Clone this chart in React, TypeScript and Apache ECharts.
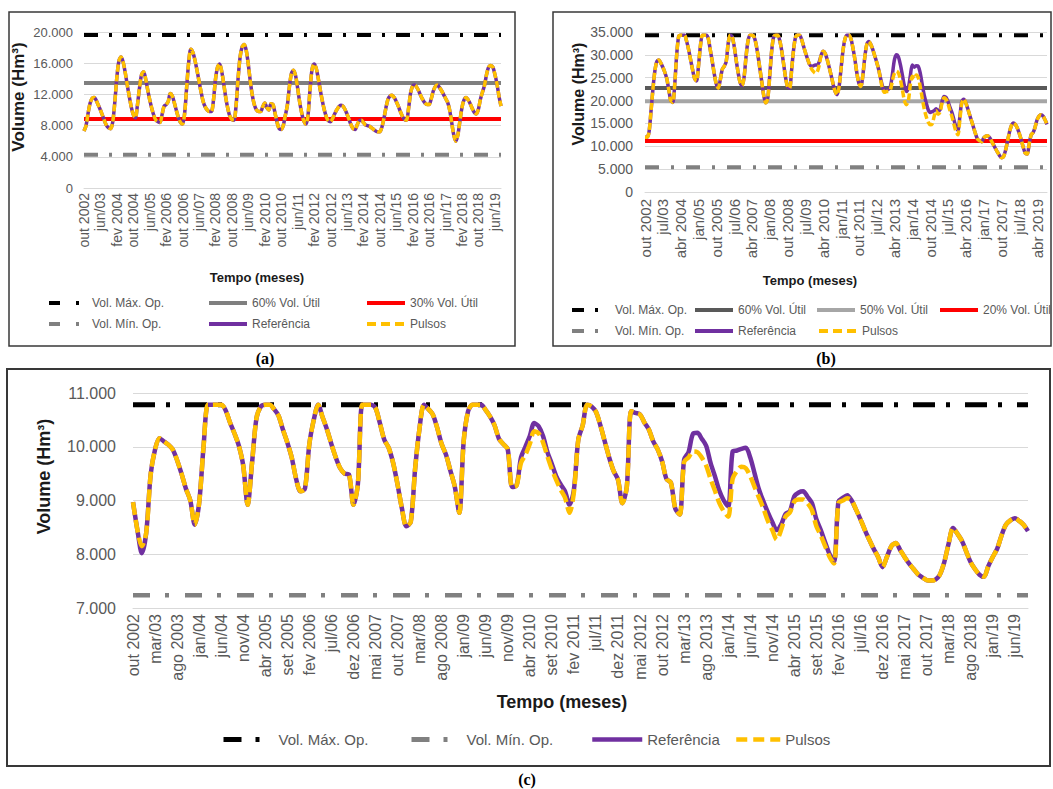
import React, { useEffect, useRef } from "react";
import * as echarts from "echarts";

// ---------- categories & tick labels ----------
const MONTHS = ["jan", "fev", "mar", "abr", "mai", "jun", "jul", "ago", "set", "out", "nov", "dez"];
const N = 204; // out/2002 .. set/2019
const categories = Array.from({ length: N }, (_, i) => `${MONTHS[(9 + i) % 12]}/${2002 + Math.floor((9 + i) / 12)}`);

const ticksA = ["out 2002", "jun/03", "fev 2004", "out 2004", "jun/05", "fev 2006", "out 2006", "jun/07", "fev 2008", "out 2008", "jun/09", "fev 2010", "out 2010", "jun/11", "fev 2012", "out 2012", "jun/13", "fev 2014", "out 2014", "jun/15", "fev 2016", "out 2016", "jun/17", "fev 2018", "out 2018", "jun/19"];
const ticksB = ["out 2002", "jul/03", "abr 2004", "jan/05", "out 2005", "jul/06", "abr 2007", "jan/08", "out 2008", "jul/09", "abr 2010", "jan/11", "out 2011", "jul/12", "abr 2013", "jan/14", "out 2014", "jul/15", "abr 2016", "jan/17", "out 2017", "jul/18", "abr 2019"];
const ticksC = ["out 2002", "mar/03", "ago 2003", "jan/04", "jun/04", "nov/04", "abr 2005", "set 2005", "fev 2006", "jul/06", "dez 2006", "mai 2007", "out 2007", "mar/08", "ago 2008", "jan/09", "jun/09", "nov/09", "abr 2010", "set 2010", "fev 2011", "jul/11", "dez 2011", "mai 2012", "out 2012", "mar/13", "ago 2013", "jan/14", "jun/14", "nov/14", "abr 2015", "set 2015", "fev 2016", "jul/16", "dez 2016", "mai 2017", "out 2017", "mar/18", "ago 2018", "jan/19", "jun/19"];

// ---------- panel (a) values (thousand hm³) ----------
const refA = [
  7.3, 8.0, 9.6, 10.9, 11.5, 11.6, 11.2, 10.6, 10.0, 9.3,
  8.6, 8.0, 7.7, 7.6, 8.5, 11.0, 14.2, 16.3, 16.8, 16.2,
  14.9, 13.3, 11.8, 10.4, 9.4, 9.0, 10.6, 12.8, 14.5, 14.9,
  14.0, 12.6, 11.3, 10.2, 9.3, 8.7, 8.5, 8.4, 9.4, 10.5,
  10.7, 11.1, 12.1, 11.8, 10.9, 9.9, 9.0, 8.4, 8.2, 9.6,
  13.0, 16.2, 17.8, 17.4, 16.4, 15.1, 13.7, 12.3, 11.1, 10.4,
  10.0, 9.8, 9.8, 11.2, 13.9, 15.5, 15.9, 15.0, 13.4, 11.6,
  10.2, 9.2, 8.8, 8.7, 10.5, 14.0, 16.8, 18.1, 18.4, 17.6,
  15.8, 13.6, 11.8, 10.6, 10.0, 9.8, 9.8, 10.4, 10.9, 10.3,
  10.0, 10.8, 10.7, 9.6, 8.4, 7.6, 7.5, 8.0, 9.3, 10.6,
  13.0, 14.7, 15.1, 14.4, 12.8, 11.0, 9.6, 8.6, 8.2, 9.2,
  12.5, 15.2, 15.9, 15.4, 14.1, 12.6, 11.2, 10.0, 9.1, 8.6,
  8.5, 8.9, 9.5, 10.0, 10.4, 10.6, 10.5, 10.1, 9.5, 8.8,
  8.1, 7.6, 7.5, 8.1, 8.6, 8.7, 8.4, 8.1, 8.0, 7.9,
  7.7, 7.5, 7.3, 7.2, 7.2, 7.8, 8.9, 10.3, 11.4, 11.8,
  11.9, 11.6, 11.1, 10.5, 9.8, 9.2, 8.8, 8.7, 10.2, 12.2,
  13.1, 13.2, 12.9, 12.4, 11.8, 11.3, 10.9, 10.7, 10.7, 11.4,
  12.4, 13.0, 13.2, 12.9, 12.5, 12.0, 11.5, 11.0, 10.0, 8.4,
  6.8, 6.0, 6.8, 8.6, 10.3, 11.3, 11.6, 11.3, 10.8, 10.2,
  9.7, 9.5, 10.1, 11.4, 12.3, 13.2, 14.6, 15.5, 15.7, 15.5,
  14.6, 13.4, 11.8, 10.5,
];
const pulsosA = refA; // identical in the figure
const MAX_A = 19.6;
const MIN_A = 4.26;
const P60_A = 13.46;
const P30_A = 8.86;

// ---------- panel (b) values ----------
const refB = [
  12.0, 12.0, 13.0, 17.5, 22.5, 26.5, 28.6, 28.9, 28.2, 27.3,
  26.2, 24.8, 22.4, 20.0, 19.6, 23.5, 30.0, 34.0, 34.3, 34.3,
  34.3, 33.0, 31.2, 29.0, 26.8, 24.9, 24.3, 27.5, 32.0, 34.3,
  34.3, 34.3, 33.5, 31.0, 28.5, 25.8, 23.6, 22.7, 24.5, 26.8,
  27.5, 28.5, 32.5, 34.3, 34.0, 32.0, 29.0, 26.2, 24.0, 23.3,
  25.0, 29.5, 33.0, 34.3, 34.3, 34.0, 32.5, 30.0, 27.0, 24.0,
  21.0, 19.5, 20.5, 25.5, 31.0, 34.0, 34.3, 34.3, 33.2, 31.0,
  28.0, 25.0, 23.0, 22.7, 26.5, 31.0, 33.8, 34.3, 34.3, 33.5,
  32.0, 30.5, 29.2, 28.0, 27.5, 27.6, 27.8, 27.8, 28.5, 30.0,
  30.8, 30.3, 29.0, 27.3, 25.5, 23.6, 22.0, 21.3, 23.0, 27.0,
  31.0, 33.5, 34.3, 34.3, 33.5, 31.5, 29.0, 26.0, 23.8, 23.1,
  25.5, 29.5, 32.3, 32.9, 32.3, 31.2, 29.8, 28.4, 26.8, 24.8,
  23.0, 22.2, 22.3, 22.5, 23.2, 26.0, 29.0, 30.0, 29.5, 27.8,
  25.5, 23.2, 22.0, 22.8, 25.5, 27.8, 27.3, 27.6, 27.5, 26.0,
  23.5, 21.2, 19.5, 18.0, 17.4, 17.6, 17.8, 18.2, 17.8, 18.0,
  19.8, 20.9, 20.7, 19.8, 18.5, 17.4, 15.8, 14.3, 13.5, 16.5,
  19.8, 20.3, 19.5, 18.2, 16.8, 15.4, 14.0, 12.6, 11.5, 11.2,
  11.0, 11.8, 12.2, 12.3, 11.9, 11.1, 10.3, 9.5, 8.7, 8.0,
  7.5, 7.7, 9.0, 11.0, 13.0, 14.5, 15.1, 14.8, 14.0, 12.8,
  11.4, 9.8, 8.5, 8.3, 10.5, 12.5, 13.0, 14.2, 15.8, 16.6,
  16.9, 16.6, 15.8, 14.8,
];
const pulsosB = [
  ...refB.slice(0, 84),
  27.0, 26.4, 26.0, 26.3, 27.8,
  ...refB.slice(89, 119),
  24.5, 22.5, 21.8, 22.0, 22.0, 22.5, 24.5, 26.0, 26.4, 26.0,
  24.5, 22.3, 20.0, 19.1, 20.0, 23.5, 25.3, 24.8, 25.6, 25.0,
  23.0, 20.5, 18.2, 16.5, 15.3, 14.7, 14.9, 16.5, 17.8, 17.0,
  17.5, 19.5, 20.6, 20.3, 19.3, 17.8, 16.5, 14.8, 13.3, 12.5,
  15.8, 19.5,
  ...refB.slice(161),
];
const MAX_B = 34.3;
const MIN_B = 5.4;
const P60_B = 22.74;
const P50_B = 19.85;
const P20_B = 11.18;

// ---------- panel (c) values ----------
const refC = [
  8.97, 8.45, 8.02, 8.40, 9.48, 9.95, 10.16, 10.10, 10.04, 9.95,
  9.75, 9.50, 9.22, 9.00, 8.55, 8.95, 10.00, 10.78, 10.78, 10.78,
  10.78, 10.68, 10.45, 10.25, 10.02, 9.65, 8.92, 9.70, 10.53, 10.75,
  10.78, 10.78, 10.70, 10.58, 10.32, 10.08, 9.80, 9.40, 9.17, 9.22,
  10.05, 10.50, 10.78, 10.55, 10.32, 10.05, 9.80, 9.60, 9.50, 9.48,
  8.92, 9.30, 10.78, 10.78, 10.78, 10.72, 10.44, 10.13, 9.98, 9.70,
  9.30, 8.85, 8.52, 8.60, 9.60, 10.35, 10.78, 10.70, 10.60, 10.35,
  10.05, 9.85, 9.55, 9.25, 8.77, 10.10, 10.66, 10.78, 10.78, 10.78,
  10.68, 10.56, 10.40, 10.15, 10.05, 9.95, 9.25, 9.28, 9.80, 10.00,
  10.20, 10.44, 10.38, 10.20, 9.90, 9.68, 9.45, 9.30, 9.17, 8.92,
  9.20, 10.13, 10.40, 10.78, 10.75, 10.65, 10.40, 10.10, 9.80, 9.55,
  9.39, 8.95, 9.25, 10.66, 10.63, 10.60, 10.45, 10.32, 10.10, 9.95,
  9.73, 9.40, 9.33, 8.85, 8.74, 9.76, 9.90, 10.24, 10.26, 10.15,
  10.02, 9.70, 9.45, 9.18, 9.00, 8.89, 9.91, 9.93, 9.96, 9.98,
  9.80, 9.50, 9.20, 8.98, 8.78, 8.60, 8.45, 8.55, 8.75, 8.80,
  9.08, 9.15, 9.17, 9.07, 8.95, 8.65, 8.45, 8.22, 8.00, 7.87,
  8.98, 9.05, 9.10, 9.00, 8.83, 8.65, 8.45, 8.27, 8.10, 7.95,
  7.76, 7.95, 8.15, 8.21, 8.08, 7.95, 7.83, 7.73, 7.63, 7.57,
  7.52, 7.51, 7.53, 7.62, 7.85, 8.20, 8.49, 8.38, 8.25, 8.05,
  7.85, 7.72, 7.62, 7.58, 7.78, 7.95, 8.10, 8.35, 8.55, 8.63,
  8.67, 8.62, 8.55, 8.43,
];
const pulsosC = [
  ...refC.slice(0, 2), 8.15, ...refC.slice(3, 88),
  9.70, 9.85, 10.05, 10.29, 10.25, 10.08, 9.82, 9.58, 9.38, 9.20,
  9.05, 8.77, 9.15,
  ...refC.slice(101, 125),
  9.72, 9.80, 9.91, 9.90, 9.80, 9.65, 9.40, 9.18, 8.95, 8.80,
  8.70, 9.40, 9.55, 9.63, 9.60, 9.45, 9.25, 9.05, 8.85, 8.62,
  8.45, 8.27, 8.45, 8.70, 8.78, 8.98, 9.02, 9.02, 8.95, 8.82,
  8.52, 8.35, 8.15, 7.95, 7.83, 8.95, 9.00, 9.04,
  ...refC.slice(163),
];
const MAX_C = 10.78;
const MIN_C = 7.235;

// ---------- styling helpers ----------
const FONT = '"Liberation Sans", Arial, sans-serif';
const TXT = "#595959";
const TITLE = "#1a1a1a";
const GRID = "#d9d9d9";
const PURPLE = "#7030a0";
const YELLOW = "#ffc000";

const fmtY = (v: number) => (v === 0 ? "0" : v.toFixed(3));

function levelSeries(name: string, value: number, color: string, width: number, type: any) {
  return {
    name,
    type: "line",
    data: [[0, value], [N - 1, value]],
    symbol: "none",
    silent: true,
    lineStyle: { color, width, type, cap: "butt" },
    itemStyle: { color },
    emphasis: { disabled: true },
  };
}
function dataSeries(name: string, values: number[], color: string, width: number, type: any) {
  return {
    name,
    type: "line",
    data: values,
    symbol: "none",
    smooth: 0.3,
    silent: true,
    lineStyle: { color, width, type, cap: "butt", join: "round" },
    itemStyle: { color },
    emphasis: { disabled: true },
  };
}
function legendItem(name: string, left: number, top: number, fontSize: number, itemWidth: number, lineWidth: number, dash?: any) {
  return {
    show: true,
    data: [name],
    left,
    top,
    padding: 0,
    itemWidth,
    itemHeight: 12,
    selectedMode: false,
    textStyle: { fontSize, color: TXT, fontFamily: FONT },
    itemStyle: { opacity: 0, borderWidth: 0 },
    lineStyle: dash ? { width: lineWidth, type: dash, cap: "butt" } : { width: lineWidth, cap: "butt" },
  };
}
function gText(x: number, y: number, text: string, font: string, fill: string, rotation = 0) {
  return {
    type: "text",
    x,
    y,
    rotation,
    silent: true,
    style: { text, font, fill, textAlign: "center", textVerticalAlign: "middle" },
  };
}
function border(x: number, y: number, w: number, h: number, lw: number) {
  return {
    type: "rect",
    silent: true,
    shape: { x, y, width: w, height: h },
    style: { fill: "none", stroke: "#383838", lineWidth: lw },
  };
}
function xAxisCfg(ticks: string[], step: number, fontSize: number, margin: number) {
  return {
    type: "category",
    data: categories,
    boundaryGap: false,
    axisLine: { show: true, lineStyle: { color: GRID, width: 1 } },
    axisTick: { show: false },
    splitLine: { show: false },
    axisLabel: {
      interval: step - 1,
      rotate: 90,
      margin,
      fontSize,
      color: TXT,
      fontFamily: FONT,
      formatter: (_v: string, i: number) => (i % step === 0 ? ticks[i / step] ?? "" : ""),
    },
  };
}
function yAxisCfg(min: number, max: number, interval: number, fontSize: number, margin: number) {
  return {
    type: "value",
    min,
    max,
    interval,
    axisLine: { show: false },
    axisTick: { show: false },
    splitLine: { show: true, lineStyle: { color: GRID, width: 1 } },
    axisLabel: { margin, fontSize, color: TXT, fontFamily: FONT, formatter: fmtY },
  };
}

const DASH_A = [14, 11, 3, 11];
const DASH_B = [14, 12, 3, 12];
const DASH_C_MAX = [22, 11, 4, 15];
const DASH_C_MIN = [17, 15, 4, 16];

const optionA: any = {
  animation: false,
  grid: { left: 84, right: 29, top: 32, bottom: 180 },
  xAxis: xAxisCfg(ticksA, 8, 14, 5),
  yAxis: yAxisCfg(0, 20, 4, 13, 11),
  legend: [
    legendItem("Vol. Máx. Op.", 47, 297, 12, 38, 4, [11, 16, 3, 8]),
    legendItem("60% Vol. Útil", 207, 297, 12, 38, 4),
    legendItem("30% Vol. Útil", 365, 297, 12, 38, 4),
    legendItem("Vol. Mín. Op.", 47, 318, 12, 38, 4, [11, 16, 3, 8]),
    legendItem("Referência", 207, 318, 12, 38, 4),
    legendItem("Pulsos", 365, 318, 12, 38, 4, [9, 5]),
  ],
  graphic: {
    elements: [
      border(9, 12, 506, 334, 1.5),
      gText(18, 97, "Volume (Hm³)", `bold 17px ${FONT}`, TITLE, Math.PI / 2),
      gText(257, 277, "Tempo (meses)", `bold 13px ${FONT}`, TITLE),
      gText(265, 358, "(a)", 'bold 16px "Liberation Serif", serif', "#000"),
    ],
  },
  series: [
    levelSeries("Vol. Máx. Op.", MAX_A, "#000000", 4, DASH_A),
    levelSeries("Vol. Mín. Op.", MIN_A, "#808080", 4, DASH_A),
    levelSeries("60% Vol. Útil", P60_A, "#7f7f7f", 4, "solid"),
    levelSeries("30% Vol. Útil", P30_A, "#ff0000", 4, "solid"),
    dataSeries("Referência", refA, PURPLE, 3.5, "solid"),
    dataSeries("Pulsos", pulsosA, YELLOW, 3.5, [7, 3]),
  ],
};

const optionB: any = {
  animation: false,
  grid: { left: 110, right: 6, top: 32, bottom: 176 },
  xAxis: xAxisCfg(ticksB, 9, 15, 7),
  yAxis: yAxisCfg(0, 35, 5, 14, 12),
  legend: [
    legendItem("Vol. Máx. Op.", 35, 304, 12, 38, 4, [12, 11, 3, 12]),
    legendItem("60% Vol. Útil", 158, 304, 12, 38, 4),
    legendItem("50% Vol. Útil", 280, 304, 12, 38, 4),
    legendItem("20% Vol. Útil", 403, 304, 12, 38, 4),
    legendItem("Vol. Mín. Op.", 35, 325, 12, 38, 4, [12, 11, 3, 12]),
    legendItem("Referência", 158, 325, 12, 38, 4),
    legendItem("Pulsos", 282, 325, 12, 38, 4, [9, 5]),
  ],
  graphic: {
    elements: [
      border(18, 12, 498, 334, 1.5),
      gText(43, 94, "Volume (Hm³)", `bold 16px ${FONT}`, TITLE, Math.PI / 2),
      gText(275, 280, "Tempo (meses)", `bold 13px ${FONT}`, TITLE),
      gText(291, 358, "(b)", 'bold 16px "Liberation Serif", serif', "#000"),
    ],
  },
  series: [
    levelSeries("Vol. Máx. Op.", MAX_B, "#000000", 4, DASH_B),
    levelSeries("Vol. Mín. Op.", MIN_B, "#808080", 4, DASH_B),
    levelSeries("60% Vol. Útil", P60_B, "#595959", 4, "solid"),
    levelSeries("50% Vol. Útil", P50_B, "#a6a6a6", 4, "solid"),
    levelSeries("20% Vol. Útil", P20_B, "#ff0000", 4, "solid"),
    dataSeries("Referência", refB, PURPLE, 3.5, "solid"),
    dataSeries("Pulsos", pulsosB, YELLOW, 3.5, [7, 3]),
  ],
};

const optionC: any = {
  animation: false,
  grid: { left: 133, right: 25, top: 33, bottom: 181 },
  xAxis: xAxisCfg(ticksC, 5, 16, 6),
  yAxis: yAxisCfg(7, 11, 1, 16, 17),
  legend: [
    legendItem("Vol. Máx. Op.", 221, 372, 15, 50, 5, [18, 14, 4, 14]),
    legendItem("Vol. Mín. Op.", 409, 372, 15, 50, 5, [18, 14, 4, 14]),
    legendItem("Referência", 590, 372, 15, 50, 4.5),
    legendItem("Pulsos", 734, 372, 15, 44, 4.5, [11, 6]),
  ],
  graphic: {
    elements: [
      border(7, 9, 1043, 397, 2),
      gText(43.5, 116.5, "Volume (Hm³)", `bold 18px ${FONT}`, TITLE, Math.PI / 2),
      gText(562, 342, "Tempo (meses)", `bold 18px ${FONT}`, TITLE),
      gText(527, 419, "(c)", 'bold 16px "Liberation Serif", serif', "#000"),
    ],
  },
  series: [
    levelSeries("Vol. Máx. Op.", MAX_C, "#000000", 5, DASH_C_MAX),
    levelSeries("Vol. Mín. Op.", MIN_C, "#808080", 4.5, DASH_C_MIN),
    dataSeries("Referência", refC, PURPLE, 4.5, "solid"),
    dataSeries("Pulsos", pulsosC, YELLOW, 4.5, [13, 5]),
  ],
};

function Panel({ option, left, top, width, height }: { option: any; left: number; top: number; width: number; height: number }) {
  const ref = useRef<HTMLDivElement>(null);
  useEffect(() => {
    if (!ref.current) return;
    const chart = echarts.init(ref.current, undefined, { renderer: "svg" });
    chart.setOption(option);
    return () => chart.dispose();
  }, [option]);
  return <div ref={ref} style={{ position: "absolute", left, top, width, height }} />;
}

export default function App() {
  useEffect(() => {
    document.body.style.margin = "0";
  }, []);
  return (
    <div style={{ position: "relative", width: 1053, height: 789, background: "#fff", overflow: "hidden" }}>
      <Panel option={optionA} left={0} top={0} width={530} height={368} />
      <Panel option={optionB} left={535} top={0} width={518} height={368} />
      <Panel option={optionC} left={0} top={360} width={1053} height={429} />
    </div>
  );
}
